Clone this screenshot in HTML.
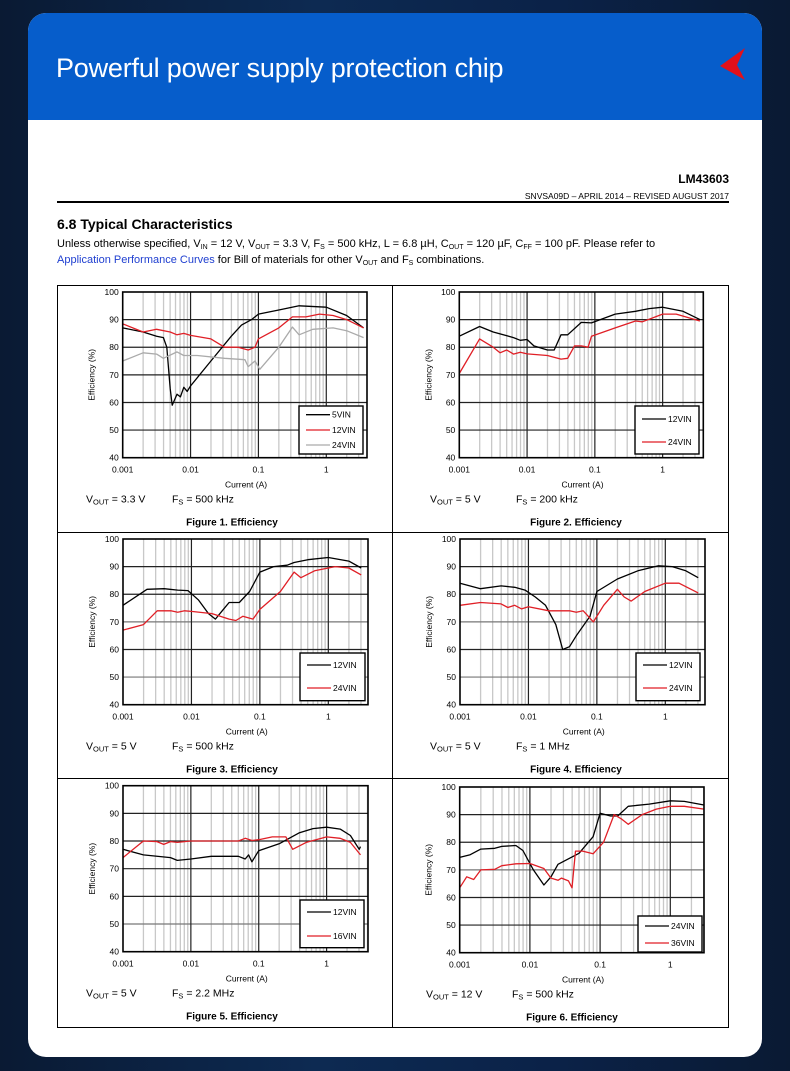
<!DOCTYPE html>
<html><head><meta charset="utf-8">
<style>
html,body{margin:0;padding:0}
body{width:790px;height:1071px;position:relative;overflow:hidden;background:linear-gradient(90deg,#0a1a33 0%,#0d2a52 40%,#0b2248 70%,#0a1a33 100%);font-family:"Liberation Sans",Arial,sans-serif}
#card{position:absolute;left:28px;top:13px;width:734px;height:1044px;background:#fff;border-radius:18px;overflow:hidden}
#hdr{position:absolute;left:0;top:0;width:734px;height:107px;background:#065dcb}
#title{position:absolute;left:28px;top:40px;color:#fff;font-size:27px;letter-spacing:-0.2px}
svg{position:absolute;left:0;top:0}
</style></head><body>
<div id="card"><div id="hdr"><div id="title">Powerful power supply protection chip</div></div></div>
<svg id="s" width="790" height="1071" xmlns="http://www.w3.org/2000/svg" font-family="Liberation Sans, Arial, sans-serif">
<polygon points="745,48 720,66 745,80 737,65" fill="#e3101a"/>
<text x="729" y="183" text-anchor="end" font-size="12" font-weight="bold">LM43603</text>
<text x="729" y="199" text-anchor="end" font-size="8.5">SNVSA09D – APRIL 2014 – REVISED AUGUST 2017</text>
<rect x="57" y="201" width="672" height="2" fill="#000"/>
<text x="57" y="229" font-size="14" font-weight="bold">6.8  Typical Characteristics</text>
<text x="57" y="247" font-size="11">Unless otherwise specified, V<tspan font-size="7" dy="2">IN</tspan><tspan dy="-2"> = 12 V, V</tspan><tspan font-size="7" dy="2">OUT</tspan><tspan dy="-2"> = 3.3 V, F</tspan><tspan font-size="7" dy="2">S</tspan><tspan dy="-2"> = 500 kHz, L = 6.8 µH, C</tspan><tspan font-size="7" dy="2">OUT</tspan><tspan dy="-2"> = 120 µF, C</tspan><tspan font-size="7" dy="2">FF</tspan><tspan dy="-2"> = 100 pF. Please refer to</tspan></text>
<text x="57" y="263" font-size="11"><tspan fill="#1f3fd0">Application Performance Curves</tspan> for Bill of materials for other V<tspan font-size="7" dy="2">OUT</tspan><tspan dy="-2"> and F</tspan><tspan font-size="7" dy="2">S</tspan><tspan dy="-2"> combinations.</tspan></text>
<g id="charts"></g>
</svg>
<script>
var G=document.getElementById('charts'),h='';
h+='<rect x="57.5" y="285.5" width="671" height="742" fill="none" stroke="#000" stroke-width="1"/>';
h+='<line x1="392.5" y1="285" x2="392.5" y2="1027" stroke="#000"/>';
h+='<line x1="57" y1="532.5" x2="729" y2="532.5" stroke="#000"/><line x1="57" y1="778.5" x2="729" y2="778.5" stroke="#000"/>';
function chart(c){
 var x0=c.x0,x1=c.x1,y0=c.y0,y1=c.y1,xm=c.xmax,s='';
 function X(l){return x0+(l+3)/(xm+3)*(x1-x0);}
 function Y(v){return y1-(v-40)/60*(y1-y0);}
 for(var d=-3;d<1;d++)for(var k=2;k<10;k++){var l=d+Math.log10(k);if(l<xm)s+='<line x1="'+X(l)+'" y1="'+y0+'" x2="'+X(l)+'" y2="'+y1+'" stroke="#c8c8c8" stroke-width="1.3"/>';}
 for(var v=50;v<100;v+=10)s+='<line x1="'+x0+'" y1="'+Y(v)+'" x2="'+x1+'" y2="'+Y(v)+'" stroke="'+(c.gray&&c.gray.indexOf(v)>=0?'#777':'#222')+'" stroke-width="1.2"/>';
 for(var d=-2;d<=0;d++)s+='<line x1="'+X(d)+'" y1="'+y0+'" x2="'+X(d)+'" y2="'+y1+'" stroke="#222" stroke-width="1.2"/>';
 var cols=['#000','#e01f26','#aaa'];
 c.series.forEach(function(p,i){s+='<polyline fill="none" stroke="'+cols[i]+'" stroke-width="1.3" stroke-linejoin="round" points="'+p.map(function(q){return X(q[0]).toFixed(1)+','+Y(q[1]).toFixed(1)}).join(' ')+'"/>';});
 s+='<rect x="'+x0+'" y="'+y0+'" width="'+(x1-x0)+'" height="'+(y1-y0)+'" fill="none" stroke="#000" stroke-width="1.6"/>';
 var L=c.leg;s+='<rect x="'+L[0]+'" y="'+L[1]+'" width="'+(L[2]-L[0])+'" height="'+(L[3]-L[1])+'" fill="#fff" stroke="#000" stroke-width="1.4"/>';
 c.names.forEach(function(n,i){var yy=L[4][i];s+='<line x1="'+(L[0]+7)+'" y1="'+yy+'" x2="'+(L[0]+31)+'" y2="'+yy+'" stroke="'+cols[i]+'" stroke-width="1.3"/><text x="'+(L[0]+33)+'" y="'+(yy+3)+'" font-size="8.5">'+n+'</text>';});
 for(var v=40;v<=100;v+=10)s+='<text x="'+(x0-4)+'" y="'+(Y(v)+3)+'" text-anchor="end" font-size="8.5">'+v+'</text>';
 ['0.001','0.01','0.1','1'].forEach(function(t,i){s+='<text x="'+X(i-3)+'" y="'+(y1+15)+'" text-anchor="middle" font-size="8.5">'+t+'</text>';});
 s+='<text x="'+(x0+(x1-x0)*0.505)+'" y="'+(y1+30)+'" text-anchor="middle" font-size="8.5">Current (A)</text>';
 var yc=(y0+y1)/2;s+='<text transform="translate('+(x0-28)+','+yc+') rotate(-90)" text-anchor="middle" font-size="8.5">Efficiency (%)</text>';
 var bx=c.bx;
 s+='<text x="'+(bx+36)+'" y="'+(y1+45)+'" font-size="10.5">V<tspan font-size="7.5" dy="2">OUT</tspan><tspan dy="-2"> = '+c.vout+'</tspan></text>';
 s+='<text x="'+(bx+122)+'" y="'+(y1+45)+'" font-size="10.5">F<tspan font-size="7.5" dy="2">S</tspan><tspan dy="-2"> = '+c.fs+'</tspan></text>';
 s+='<text x="'+(bx+182)+'" y="'+(y1+68)+'" text-anchor="middle" font-size="10" font-weight="bold">Figure '+c.n+'. Efficiency</text>';
 return s;
}
var C=[
{n:1,x0:122.7,x1:367,y0:292,y1:457.7,xmax:0.6,bx:50,vout:'3.3 V',fs:'500 kHz',names:['5VIN','12VIN','24VIN'],leg:[299,406,363,454,[414.7,430,445]],
series:[[[-3,87],[-2.7,85.5],[-2.5,84],[-2.4,83.5],[-2.35,80],[-2.3,65],[-2.27,59],[-2.2,63],[-2.15,62],[-2.1,65.5],[-2.05,64],[-2,66],[-1.7,75],[-1.4,84],[-1.25,88],[-1.1,90],[-1,92],[-0.7,93.5],[-0.4,95],[0,94.5],[0.3,91.5],[0.55,87]],
[[-3,88.5],[-2.7,85.5],[-2.5,86.5],[-2.3,85.5],[-2.2,84.5],[-2.1,85],[-2,84.3],[-1.7,83],[-1.5,80],[-1.3,80],[-1.15,79],[-1.05,80],[-1,83],[-0.7,87],[-0.5,91],[-0.3,91],[-0.1,92],[0.1,91.5],[0.3,90],[0.55,87]],
[[-3,75],[-2.7,78],[-2.5,77.5],[-2.4,76],[-2.2,78.3],[-2.1,77],[-1.9,77],[-1.5,76],[-1.2,75.5],[-1.15,73],[-1.05,75],[-0.98,72],[-0.7,80],[-0.5,87.3],[-0.4,84.5],[-0.2,86.5],[0.1,87],[0.3,86],[0.55,83.5]]]},
{n:2,x0:459.3,x1:703.3,y0:292,y1:457.7,xmax:0.6,bx:394,vout:'5 V',fs:'200 kHz',names:['12VIN','24VIN'],leg:[635,406,699,454,[419,442]],
series:[[[-3,84],[-2.7,87.5],[-2.5,85.5],[-2.2,83.5],[-2.1,82.5],[-2,82.8],[-1.9,80.5],[-1.7,79],[-1.6,79],[-1.5,84.5],[-1.4,84.5],[-1.2,89],[-1.05,88.8],[-0.7,92],[-0.4,93],[-0.2,94],[0,94.5],[0.3,93],[0.55,90]],
[[-3,70.5],[-2.7,83],[-2.5,80],[-2.4,78],[-2.3,79],[-2.2,77.5],[-2.1,78.2],[-2,77.6],[-1.7,77],[-1.5,75.7],[-1.4,76],[-1.3,80.5],[-1.2,80.5],[-1.1,80],[-1.05,84],[-0.7,87],[-0.4,89.5],[-0.3,89.2],[0,92],[0.2,92],[0.55,89.5]]]},
{n:3,x0:123,x1:368,y0:539,y1:704.7,xmax:0.58,bx:50,vout:'5 V',fs:'500 kHz',gray:[70,50],names:['12VIN','24VIN'],leg:[300,653,365,700.7,[665,688]],
series:[[[-3,76],[-2.65,81.8],[-2.4,82],[-2.2,81.5],[-2.05,81.3],[-1.9,78],[-1.75,73],[-1.65,71],[-1.55,74],[-1.45,77],[-1.3,77],[-1.15,81],[-1,88],[-0.8,90],[-0.6,90.5],[-0.5,91.5],[-0.3,92.5],[0,93.3],[0.3,92],[0.48,89.5]],
[[-3,67],[-2.7,69],[-2.5,74],[-2.3,74],[-2.2,73.5],[-2.1,74],[-2,73.8],[-1.7,73],[-1.45,71],[-1.35,70.5],[-1.25,72],[-1.1,71],[-1,74.5],[-0.7,81],[-0.5,88],[-0.4,86],[-0.2,88.5],[0.1,90],[0.3,89.5],[0.48,87]]]},
{n:4,x0:460,x1:705,y0:539,y1:704.7,xmax:0.58,bx:394,vout:'5 V',fs:'1 MHz',gray:[70,50],names:['12VIN','24VIN'],leg:[636,653,700,700.7,[665,688]],
series:[[[-3,84],[-2.7,82],[-2.4,83],[-2.2,82.5],[-2.05,81.5],[-1.9,79],[-1.75,76],[-1.6,69],[-1.5,60],[-1.4,61],[-1.3,65],[-1.1,72],[-1,81],[-0.7,85.5],[-0.4,88.5],[-0.1,90.3],[0.1,90],[0.3,88.5],[0.48,86]],
[[-3,76],[-2.7,77],[-2.4,76.5],[-2.3,75.2],[-2.2,76],[-2.1,74.7],[-2,75.5],[-1.7,74],[-1.4,74],[-1.3,73.5],[-1.2,74],[-1.05,70],[-0.9,76],[-0.7,81.8],[-0.6,79],[-0.5,77.5],[-0.3,81],[0,84],[0.2,84],[0.48,80.5]]]},
{n:5,x0:123,x1:368,y0:785.7,y1:951.7,xmax:0.61,bx:50,vout:'5 V',fs:'2.2 MHz',gray:[50],names:['12VIN','16VIN'],leg:[300,900,364,947.7,[912,936]],
series:[[[-3,77],[-2.7,75],[-2.3,74],[-2.2,73],[-2,73.5],[-1.7,74.5],[-1.5,74.5],[-1.3,74.5],[-1.2,73.5],[-1.15,75],[-1.1,72.5],[-1,76.5],[-0.7,79],[-0.4,83],[-0.2,84.5],[0,85],[0.2,84.3],[0.35,82],[0.48,77],[0.5,78]],
[[-3,74],[-2.7,80],[-2.5,79.8],[-2.4,78.8],[-2.3,79.8],[-2.2,79.5],[-2,80],[-1.5,80],[-1.3,80],[-1.2,81],[-1.1,80.2],[-1,80.5],[-0.8,81.5],[-0.6,81.5],[-0.5,77],[-0.3,79.5],[0,81.5],[0.2,81],[0.35,79.5],[0.5,75]]]},
{n:6,x0:459.7,x1:704,y0:787,y1:952.7,xmax:0.48,bx:390,vout:'12 V',fs:'500 kHz',gray:[70],names:['24VIN','36VIN'],leg:[638,916,702,952,[926,943]],
series:[[[-3,74.5],[-2.85,75.5],[-2.7,77.5],[-2.5,77.8],[-2.4,78.5],[-2.2,78.8],[-2.1,77],[-1.95,70],[-1.8,64.5],[-1.7,67.5],[-1.6,72],[-1.3,76],[-1.1,82],[-1,90.5],[-0.85,89.5],[-0.75,89.5],[-0.6,93],[-0.3,93.8],[0,95],[0.2,94.8],[0.48,93.5]],
[[-3,63.5],[-2.9,67.5],[-2.8,66.5],[-2.7,70],[-2.5,70.2],[-2.4,71.5],[-2.2,72.2],[-2,72.3],[-1.8,70.5],[-1.7,67],[-1.6,66.2],[-1.55,67],[-1.45,66],[-1.4,63.5],[-1.35,76.8],[-1.25,76.8],[-1.1,75.8],[-0.95,80],[-0.8,90],[-0.7,88.5],[-0.6,86.5],[-0.4,90],[-0.2,92],[0,93],[0.2,93],[0.48,92]]]}
];
C.forEach(function(c){h+=chart(c);});
G.innerHTML=h;
</script>
</body></html>
